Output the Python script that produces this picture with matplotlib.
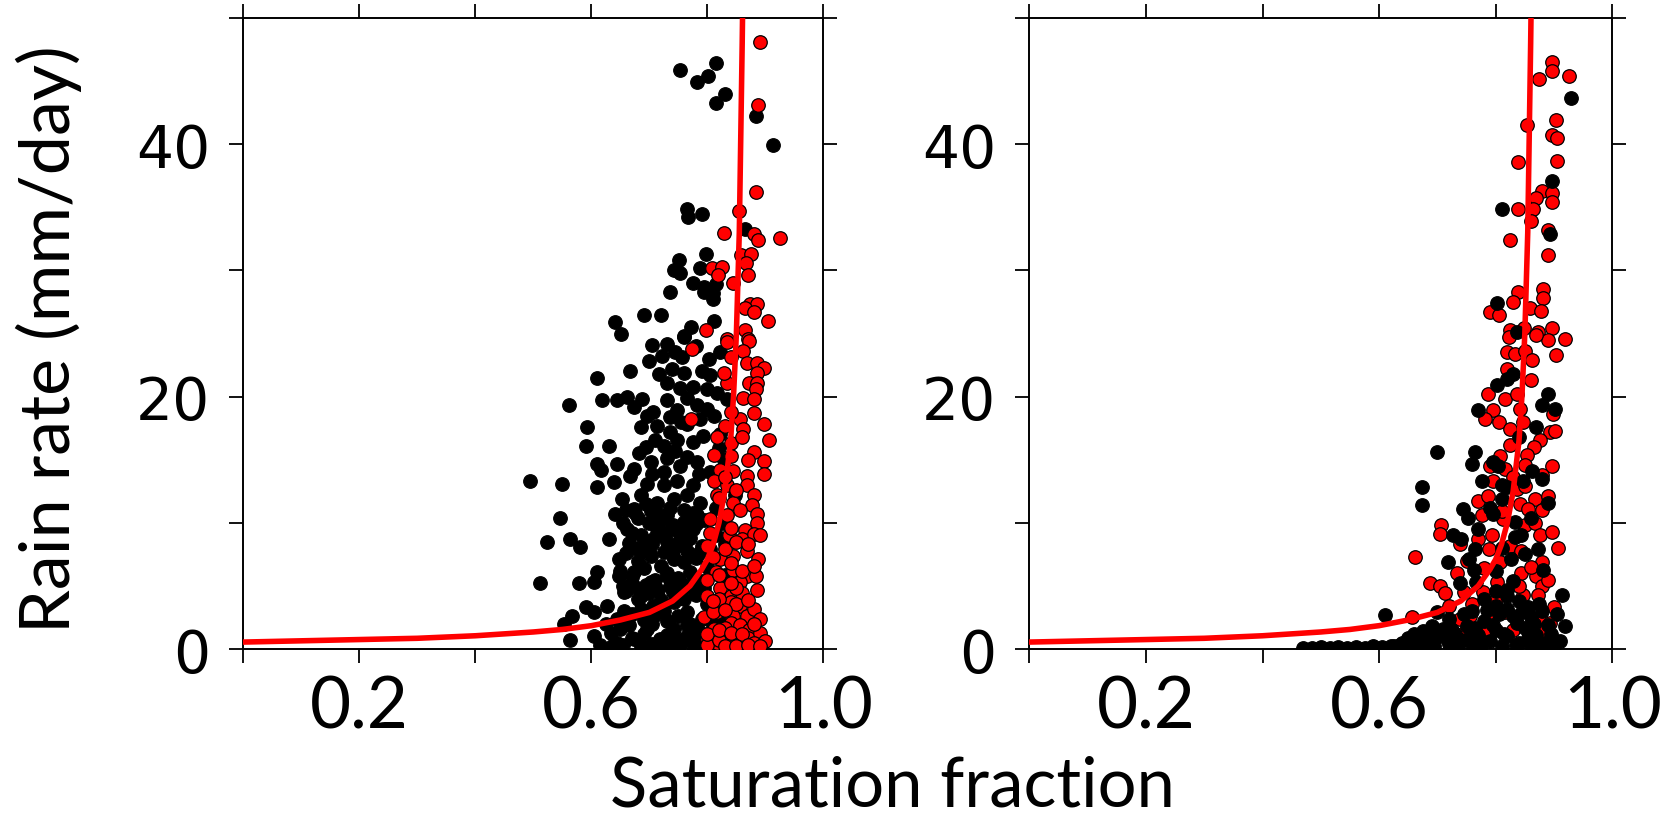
import matplotlib
matplotlib.use("Agg")
import matplotlib.pyplot as plt

# ── Data ──────────────────────────────────────────────────────────────────────
# red fitted curve: rain rate vs saturation fraction (same in both panels)
curve_x = [0.0, 0.1, 0.2, 0.3, 0.4, 0.5, 0.55, 0.6, 0.65, 0.7, 0.74, 0.77,
           0.79, 0.8, 0.81, 0.82, 0.83, 0.84, 0.845, 0.85, 0.855, 0.86, 0.862]
curve_y = [0.55, 0.65, 0.75, 0.85, 1.05, 1.35, 1.55, 1.85, 2.3, 2.9, 3.8, 5.0,
           6.3, 7.1, 8.3, 10.0, 12.5, 16.5, 20.0, 25.0, 33.0, 48.0, 55.0]

x_ticks = [0.0, 0.2, 0.4, 0.6, 0.8, 1.0]
x_ticklabels = ["", "0.2", "", "0.6", "", "1.0"]
y_ticks = [0, 10, 20, 30, 40, 50]
y_ticklabels = ["0", "", "20", "", "40", ""]

# left panel, black points (saturation, rain)
left_black = [
    (0.753, 45.9), (0.815, 46.4), (0.801, 45.4), (0.782, 44.9), (0.830, 44.0),
    (0.815, 43.3), (0.883, 42.2), (0.913, 39.9), (0.764, 34.9), (0.767, 34.2),
    (0.790, 34.5), (0.864, 33.3), (0.798, 31.3), (0.751, 30.8), (0.742, 30.0),
    (0.753, 29.8), (0.788, 30.2), (0.776, 29.0), (0.794, 28.7), (0.814, 28.9),
    (0.794, 28.3), (0.810, 28.2), (0.735, 28.3), (0.810, 27.7), (0.690, 26.5),
    (0.720, 26.5), (0.812, 26.0), (0.640, 25.9), (0.651, 25.0), (0.771, 25.5),
    (0.759, 24.8), (0.705, 24.1), (0.731, 24.2), (0.759, 24.7), (0.722, 23.2),
    (0.700, 22.8), (0.757, 23.1), (0.802, 23.0), (0.822, 23.5), (0.666, 22.0),
    (0.610, 21.5), (0.716, 21.8), (0.739, 22.2), (0.759, 21.9), (0.730, 21.1),
    (0.753, 20.7), (0.800, 20.6), (0.817, 20.3), (0.834, 19.8), (0.561, 19.3),
    (0.618, 19.7), (0.644, 19.7), (0.661, 20.0), (0.687, 19.8), (0.673, 19.2),
    (0.696, 18.5), (0.707, 18.8), (0.730, 19.7), (0.748, 18.9), (0.765, 19.9),
    (0.782, 19.3), (0.800, 19.0), (0.593, 17.6), (0.685, 17.6), (0.713, 17.7),
    (0.736, 18.4), (0.765, 17.8), (0.788, 18.2), (0.811, 18.5), (0.590, 16.1),
    (0.630, 16.1), (0.710, 16.6), (0.725, 16.1), (0.748, 16.6), (0.776, 16.4),
    (0.793, 16.9), (0.682, 15.5), (0.610, 14.7), (0.644, 14.7), (0.673, 14.3),
    (0.702, 14.8), (0.730, 15.1), (0.753, 14.5), (0.782, 14.8), (0.616, 14.2),
    (0.495, 13.3), (0.549, 13.1), (0.610, 12.8), (0.639, 13.2), (0.667, 13.7),
    (0.696, 13.1), (0.725, 13.0), (0.748, 13.3), (0.776, 13.0), (0.848, 12.2),
    (0.653, 11.9), (0.685, 12.2), (0.713, 11.6), (0.742, 11.9), (0.765, 12.2),
    (0.788, 11.6), (0.673, 11.1), (0.641, 10.7), (0.702, 10.9), (0.730, 10.6),
    (0.759, 11.0), (0.782, 10.6), (0.546, 10.4), (0.524, 8.5), (0.564, 8.7),
    (0.581, 8.1), (0.630, 8.7), (0.661, 9.5), (0.685, 9.0), (0.713, 9.5),
    (0.730, 8.5), (0.753, 9.0), (0.776, 9.5), (0.673, 8.0), (0.702, 7.4),
    (0.647, 7.1), (0.742, 7.1), (0.765, 7.8), (0.512, 5.2), (0.578, 5.2),
    (0.610, 6.1), (0.605, 5.3), (0.647, 5.8), (0.673, 6.1), (0.702, 5.3),
    (0.730, 5.8), (0.753, 5.3), (0.776, 4.8), (0.656, 4.5), (0.685, 4.2),
    (0.627, 3.4), (0.590, 3.3), (0.604, 2.9), (0.567, 2.6), (0.553, 2.0),
    (0.656, 3.0), (0.707, 3.4), (0.742, 3.7), (0.765, 2.9), (0.564, 0.7),
    (0.604, 1.0), (0.633, 1.3), (0.644, 0.5), (0.673, 0.8), (0.696, 1.6),
    (0.719, 0.8), (0.742, 1.6), (0.765, 1.0), (0.788, 0.5), (0.753, 0.4),
    (0.66, 11.0), (0.68, 10.4), (0.70, 10.0), (0.72, 10.2), (0.74, 9.8),
    (0.76, 10.1), (0.78, 9.9), (0.67, 9.2), (0.69, 8.6), (0.71, 8.9),
    (0.73, 9.3), (0.75, 8.4), (0.77, 8.8), (0.79, 8.2), (0.66, 7.6),
    (0.68, 7.0), (0.70, 7.8), (0.72, 6.6), (0.74, 7.4), (0.76, 6.9),
    (0.78, 7.2), (0.80, 6.5), (0.65, 6.2), (0.67, 5.7), (0.69, 6.4),
    (0.71, 5.5), (0.73, 6.0), (0.75, 5.6), (0.77, 6.1), (0.79, 5.4),
    (0.66, 4.6), (0.68, 4.0), (0.70, 4.4), (0.72, 3.9), (0.74, 4.5),
    (0.76, 4.0), (0.78, 4.3), (0.80, 3.6), (0.67, 2.8), (0.69, 2.3),
    (0.71, 2.7), (0.73, 2.2), (0.75, 2.6), (0.77, 2.0), (0.79, 2.4),
    (0.81, 1.8), (0.65, 1.6), (0.67, 0.9), (0.69, 1.2), (0.71, 0.3),
    (0.73, 1.1), (0.75, 0.6), (0.77, 1.3), (0.79, 0.9), (0.81, 0.4),
    (0.82, 2.3), (0.83, 1.0), (0.822, 17.0), (0.828, 15.0),
    (0.655, 10.0), (0.675, 10.8), (0.695, 11.5), (0.715, 10.7), (0.735, 11.2),
    (0.755, 9.6), (0.775, 10.8), (0.795, 10.2), (0.665, 8.4), (0.685, 7.8),
    (0.705, 8.3), (0.725, 7.7), (0.745, 8.1), (0.765, 8.6), (0.785, 7.6),
    (0.805, 7.9), (0.655, 5.0), (0.675, 4.9), (0.695, 5.1), (0.715, 4.7),
    (0.735, 5.0), (0.755, 4.6), (0.775, 5.4), (0.795, 4.8), (0.625, 2.0),
    (0.645, 2.4), (0.665, 1.9), (0.685, 3.2), (0.705, 2.0), (0.725, 3.0),
    (0.745, 0.9), (0.765, 1.9), (0.785, 1.4), (0.805, 2.6), (0.615, 0.3),
    (0.635, 0.2), (0.655, 0.3), (0.685, 0.2), (0.705, 0.4), (0.725, 0.2),
    (0.745, 0.3), (0.775, 0.3), (0.795, 0.2), (0.815, 0.9), (0.705, 13.9),
    (0.725, 14.0), (0.745, 15.7), (0.765, 15.2), (0.785, 13.9), (0.805, 14.0),
    (0.815, 11.2), (0.695, 16.0), (0.735, 17.2), (0.755, 18.0), (0.775, 20.8),
    (0.790, 22.0), (0.745, 23.5), (0.780, 24.0), (0.805, 21.7), (0.820, 15.9),
    (0.825, 10.0), (0.830, 5.9), (0.830, 8.3), (0.815, 9.0),
]

# left panel, red points
left_red = [
    (0.891, 48.1), (0.887, 43.1), (0.883, 36.2), (0.854, 34.7), (0.829, 33.0),
    (0.880, 32.9), (0.887, 32.4), (0.925, 32.6), (0.858, 31.2), (0.876, 31.3),
    (0.808, 30.2), (0.825, 30.3), (0.819, 29.6), (0.866, 30.6), (0.870, 29.6),
    (0.844, 29.0), (0.873, 27.3), (0.886, 27.3), (0.865, 27.0), (0.880, 26.7),
    (0.905, 26.0), (0.797, 25.3), (0.865, 25.3), (0.834, 24.6), (0.870, 24.6),
    (0.774, 23.8), (0.833, 24.3), (0.871, 24.4), (0.862, 23.6), (0.840, 23.1),
    (0.868, 22.7), (0.885, 22.7), (0.897, 22.3), (0.885, 21.9), (0.871, 21.1),
    (0.885, 21.1), (0.834, 21.1), (0.828, 21.9), (0.883, 20.6), (0.862, 19.9),
    (0.880, 19.8), (0.771, 18.2), (0.831, 17.7), (0.857, 18.2), (0.862, 17.4),
    (0.897, 17.8), (0.906, 16.6), (0.817, 16.8), (0.840, 16.3), (0.880, 15.6),
    (0.897, 14.9), (0.811, 15.4), (0.840, 15.3), (0.897, 13.9), (0.868, 13.7),
    (0.822, 14.2), (0.845, 14.1), (0.811, 13.3), (0.834, 13.0), (0.868, 13.0),
    (0.880, 12.2), (0.817, 12.2), (0.845, 11.6), (0.877, 11.4), (0.885, 10.7),
    (0.857, 11.0), (0.834, 10.6), (0.805, 10.3), (0.885, 10.0), (0.865, 9.4),
    (0.837, 9.0), (0.805, 9.2), (0.868, 7.8), (0.888, 7.1), (0.845, 7.4),
    (0.822, 7.1), (0.799, 8.2), (0.814, 6.1), (0.845, 6.3), (0.868, 5.8),
    (0.883, 5.8), (0.857, 5.3), (0.886, 4.7), (0.822, 4.8), (0.840, 4.2),
    (0.799, 4.2), (0.840, 3.7), (0.857, 3.4), (0.817, 2.9), (0.845, 2.6),
    (0.868, 2.6), (0.794, 2.5), (0.799, 0.8), (0.817, 0.5), (0.834, 1.0),
    (0.845, 0.5), (0.862, 0.8), (0.877, 0.7), (0.851, 1.6), (0.811, 1.6),
    (0.840, 2.1), (0.857, 1.9), (0.871, 1.5), (0.80, 5.5), (0.82, 4.0),
    (0.84, 6.8), (0.86, 4.4), (0.88, 3.2), (0.81, 2.9), (0.83, 1.7),
    (0.85, 3.6), (0.87, 0.9), (0.89, 1.3), (0.80, 0.3), (0.82, 0.7),
    (0.86, 0.3), (0.88, 0.5), (0.84, 9.6), (0.86, 8.7), (0.88, 9.1),
    (0.85, 12.6), (0.87, 15.0), (0.83, 13.6), (0.86, 16.8), (0.88, 18.7),
    (0.84, 18.8), (0.82, 12.0), (0.81, 3.8), (0.83, 3.1), (0.85, 4.8),
    (0.87, 3.9), (0.89, 2.4), (0.82, 5.9), (0.84, 5.2), (0.86, 6.2),
    (0.88, 6.6), (0.83, 7.9), (0.85, 8.5), (0.87, 8.3), (0.89, 9.0),
    (0.81, 7.3), (0.80, 1.2), (0.82, 1.5), (0.84, 1.3), (0.86, 1.2),
    (0.88, 2.0), (0.90, 0.6), (0.83, 0.2), (0.85, 0.2), (0.87, 0.3),
    (0.89, 0.2),
]

# right panel, red points
right_red = [
    (0.896, 46.5), (0.896, 45.8), (0.875, 45.2), (0.926, 45.4), (0.853, 41.5),
    (0.904, 41.9), (0.896, 40.7), (0.905, 40.5), (0.839, 38.6), (0.905, 38.7),
    (0.879, 36.3), (0.870, 35.7), (0.896, 36.1), (0.896, 35.4), (0.839, 34.9),
    (0.864, 34.9), (0.861, 33.9), (0.890, 33.2), (0.825, 32.4), (0.890, 31.2),
    (0.839, 28.3), (0.882, 28.5), (0.882, 27.8), (0.830, 27.5), (0.859, 27.0),
    (0.878, 26.8), (0.790, 26.7), (0.806, 26.5), (0.825, 25.3), (0.848, 25.4),
    (0.872, 25.1), (0.896, 25.4), (0.919, 24.6), (0.890, 24.5), (0.822, 24.7),
    (0.870, 24.9), (0.819, 23.5), (0.833, 23.4), (0.850, 23.6), (0.862, 22.9),
    (0.904, 23.3), (0.819, 22.2), (0.861, 21.3), (0.787, 20.2), (0.816, 19.8),
    (0.836, 20.2), (0.899, 18.6), (0.796, 18.9), (0.782, 18.2), (0.805, 18.0),
    (0.842, 19.0), (0.847, 18.0), (0.825, 17.4), (0.893, 17.2), (0.902, 17.3),
    (0.876, 16.6), (0.825, 16.2), (0.865, 16.0), (0.853, 15.4), (0.807, 15.3),
    (0.790, 14.5), (0.816, 14.3), (0.896, 14.5), (0.879, 13.8), (0.850, 14.6),
    (0.796, 13.3), (0.836, 12.7), (0.769, 11.7), (0.787, 12.1), (0.867, 11.9),
    (0.890, 12.1), (0.842, 11.5), (0.856, 11.1), (0.879, 11.0), (0.776, 10.6),
    (0.850, 9.8), (0.867, 10.0), (0.813, 10.3), (0.707, 9.8), (0.704, 9.1),
    (0.739, 8.3), (0.770, 8.7), (0.793, 9.0), (0.876, 9.0), (0.896, 9.3),
    (0.907, 8.0), (0.662, 7.3), (0.788, 7.9), (0.825, 8.2), (0.844, 7.8),
    (0.807, 6.9), (0.879, 6.9), (0.733, 6.0), (0.844, 6.0), (0.870, 5.8),
    (0.687, 5.2), (0.704, 5.0), (0.802, 5.3), (0.847, 4.3), (0.879, 5.0),
    (0.873, 4.3), (0.713, 4.4), (0.745, 4.5), (0.779, 4.5), (0.656, 2.5),
    (0.879, 2.2), (0.893, 2.1), (0.739, 2.4), (0.756, 2.6), (0.790, 2.4),
    (0.816, 2.9), (0.745, 1.3), (0.785, 1.6), (0.830, 1.5), (0.859, 1.3),
    (0.882, 1.5), (0.72, 3.4), (0.76, 3.6), (0.80, 3.9), (0.84, 5.0),
    (0.86, 6.5), (0.89, 5.5), (0.90, 3.3), (0.75, 7.0), (0.78, 6.4),
    (0.81, 10.9), (0.83, 13.6), (0.85, 12.9),
]

# right panel, black points (drawn over the red ones)
right_black = [
    (0.929, 43.7), (0.896, 37.1), (0.810, 34.9), (0.893, 32.9), (0.802, 27.4),
    (0.837, 25.1), (0.819, 21.4), (0.802, 20.9), (0.890, 20.2), (0.879, 19.3),
    (0.902, 19.0), (0.770, 18.9), (0.699, 15.6), (0.764, 15.6), (0.759, 14.7),
    (0.796, 14.8), (0.804, 14.5), (0.862, 14.1), (0.776, 13.3), (0.810, 13.0),
    (0.847, 13.3), (0.673, 12.8), (0.673, 11.4), (0.810, 11.9), (0.890, 11.6),
    (0.744, 11.1), (0.796, 10.7), (0.753, 10.4), (0.833, 10.1), (0.727, 9.0),
    (0.741, 8.7), (0.833, 8.9), (0.844, 9.0), (0.873, 7.9), (0.719, 6.9),
    (0.755, 7.1), (0.764, 7.9), (0.882, 6.3), (0.762, 6.3), (0.827, 7.1),
    (0.739, 5.2), (0.767, 5.3), (0.819, 4.7), (0.914, 4.3), (0.610, 2.7),
    (0.905, 2.8), (0.919, 1.85), (0.836, 2.1), (0.893, 0.7),
    (0.80, 6.2), (0.83, 5.4), (0.85, 7.5), (0.81, 8.0), (0.77, 9.5),
    (0.79, 11.2), (0.86, 10.4), (0.82, 12.8), (0.84, 16.8), (0.87, 17.6),
    (0.83, 21.8), (0.88, 13.5),
    (0.47, 0.1), (0.485, 0.1), (0.50, 0.15), (0.515, 0.1), (0.53, 0.15),
    (0.545, 0.1), (0.56, 0.15), (0.575, 0.1), (0.59, 0.2), (0.605, 0.15),
    (0.62, 0.2), (0.635, 0.3), (0.64, 0.5), (0.65, 0.9), (0.66, 1.2),
    (0.67, 0.8), (0.68, 1.3), (0.69, 0.5), (0.70, 1.0), (0.71, 1.6),
    (0.72, 0.4), (0.73, 1.2), (0.74, 0.7), (0.75, 1.8), (0.76, 0.3),
    (0.77, 1.1), (0.78, 2.2), (0.79, 0.6), (0.80, 1.5), (0.81, 0.2),
    (0.82, 1.0), (0.83, 2.6), (0.84, 0.5), (0.85, 1.7), (0.86, 0.3),
    (0.87, 1.1), (0.88, 0.4), (0.89, 1.9), (0.90, 0.2), (0.91, 0.6),
    (0.76, 3.0), (0.80, 3.4), (0.84, 3.8), (0.86, 2.5), (0.88, 3.0),
    (0.72, 2.4), (0.70, 2.9), (0.82, 4.2), (0.78, 4.0),
    (0.655, 0.3), (0.675, 0.2), (0.695, 0.2), (0.715, 0.9), (0.735, 0.2),
    (0.755, 0.9), (0.775, 0.3), (0.795, 1.9), (0.815, 1.2), (0.835, 0.3),
    (0.855, 0.9), (0.875, 0.2), (0.895, 1.2), (0.865, 2.0), (0.845, 2.9),
    (0.805, 2.8), (0.785, 3.1), (0.765, 1.7), (0.745, 2.8), (0.725, 1.5),
    (0.690, 1.8), (0.675, 1.4), (0.660, 0.6), (0.640, 0.2), (0.625, 0.2),
    (0.820, 3.2), (0.855, 3.3), (0.875, 3.6), (0.800, 4.6),
]

# ── Figure ────────────────────────────────────────────────────────────────────
fig = plt.figure(figsize=(16.77, 8.2), dpi=100)
ax_l = fig.add_axes([0.1451, 0.2073, 0.3459, 0.7695])
ax_r = fig.add_axes([0.6138, 0.2073, 0.3476, 0.7695])

MS = 95  # marker area (pt^2)


def dots(ax, pts, colour, z):
    xs, ys = zip(*pts)
    ax.scatter(xs, ys, s=MS, c=colour, edgecolors="black", linewidths=0.9,
               zorder=z)


dots(ax_l, left_black, "black", 2)
dots(ax_l, left_red, "red", 3)
dots(ax_r, right_red, "red", 2)
dots(ax_r, right_black, "black", 3)

for ax in (ax_l, ax_r):
    ax.plot(curve_x, curve_y, color="red", lw=4, zorder=4)
    ax.set_xlim(0, 1.0)
    ax.set_ylim(0, 50)
    ax.set_xticks(x_ticks)
    ax.set_xticklabels(x_ticklabels, fontfamily="Lato", fontsize=51)
    ax.set_yticks(y_ticks)
    ax.set_yticklabels(y_ticklabels, fontfamily="DejaVu Sans", fontsize=42)
    ax.tick_params(direction="out", length=10, width=1.3, top=True, right=True)
    ax.tick_params(axis="y", pad=14)
    ax.tick_params(axis="x", pad=8)
    for sp in ax.spines.values():
        sp.set_linewidth(1.4)

fig.text(0.029, 0.586, "Rain rate (mm/day)", rotation=90, ha="center",
         va="center", fontfamily="Lato", fontsize=50.5)
fig.text(0.532, 0.016, "Saturation fraction", ha="center", va="baseline",
         fontfamily="Lato", fontsize=49.5)

fig.savefig("out.png", dpi=100)
